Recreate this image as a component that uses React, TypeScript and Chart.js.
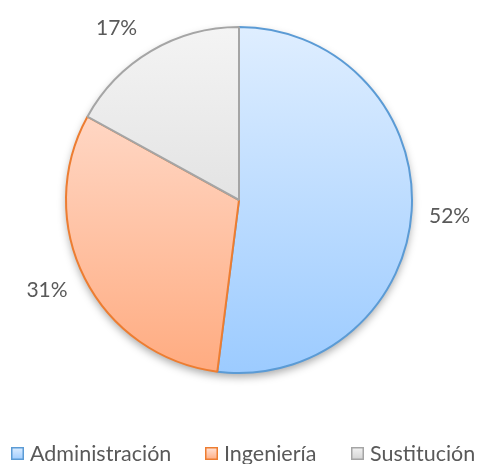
import React, { useEffect, useRef } from "react";
import { Chart, registerables } from "chart.js";

Chart.register(...registerables);

const categories = ["Administración", "Ingeniería", "Sustitución"];
const values = [52, 31, 17];
const labels = ["52%", "31%", "17%"];

const topColors = ["#dfeeff", "#ffe6dc", "#f4f4f4"];
const bottomColors = ["#9ccbff", "#ffab80", "#d2d2d2"];
const borderColors = ["#5b9bd5", "#ed7d31", "#a5a5a5"];

const FONT = "Lato, 'Open Sans', sans-serif";
const TEXT = "#595959";

export default function App() {
  const ref = useRef<HTMLCanvasElement | null>(null);
  useEffect(() => {
    document.body.style.margin = "0";
    const canvas = ref.current!;
    const gradFor = (ctx: any, i: number) => {
      const chart = ctx.chart;
      const a = chart.chartArea;
      if (!a) return topColors[i];
      const g = chart.ctx.createLinearGradient(0, a.top, 0, a.bottom);
      g.addColorStop(0, topColors[i]);
      g.addColorStop(1, bottomColors[i]);
      return g;
    };

    const shadowPlugin = {
      id: "shadow",
      beforeDatasetsDraw(chart: any) {
        const arc = chart.getDatasetMeta(0).data[0];
        if (!arc) return;
        const { x, y, outerRadius } = arc.getProps(["x", "y", "outerRadius"], true);
        const c = chart.ctx;
        c.save();
        c.shadowColor = "rgba(0,0,0,0.35)";
        c.shadowBlur = 9;
        c.shadowOffsetY = 4;
        c.fillStyle = "#ffffff";
        c.beginPath();
        c.arc(x, y, outerRadius, 0, Math.PI * 2);
        c.fill();
        c.restore();
      },
    };

    // small nudges so the labels sit where the reference places them
    const nudge = [
      [0, 3],
      [-4, -6],
      [-15, 10],
    ];

    const labelPlugin = {
      id: "outLabels",
      afterDatasetsDraw(chart: any) {
        const c = chart.ctx;
        const meta = chart.getDatasetMeta(0);
        c.save();
        c.font = `21px ${FONT}`;
        c.fillStyle = TEXT;
        c.textAlign = "center";
        c.textBaseline = "middle";
        meta.data.forEach((el: any, i: number) => {
          const { x, y, startAngle, endAngle, outerRadius } = el.getProps(
            ["x", "y", "startAngle", "endAngle", "outerRadius"],
            true
          );
          const mid = (startAngle + endAngle) / 2;
          const r = outerRadius + 38;
          const lx = x + Math.cos(mid) * r + nudge[i][0];
          const ly = y + Math.sin(mid) * r + nudge[i][1];
          c.fillText(labels[i], lx, ly);
        });
        c.restore();
      },
    };

    const legendPlugin = {
      id: "customLegend",
      afterDraw(chart: any) {
        const c = chart.ctx;
        const xs = [11, 205, 351];
        const y = 447;
        c.save();
        c.font = `21.5px ${FONT}`;
        c.textBaseline = "middle";
        categories.forEach((name, i) => {
          const g = c.createLinearGradient(0, y, 0, y + 13);
          g.addColorStop(0, topColors[i]);
          g.addColorStop(1, bottomColors[i]);
          c.fillStyle = g;
          c.fillRect(xs[i], y, 13, 13);
          c.strokeStyle = borderColors[i];
          c.lineWidth = 1.5;
          c.strokeRect(xs[i] + 0.75, y + 0.75, 11.5, 11.5);
          c.fillStyle = TEXT;
          c.fillText(name, xs[i] + 19, y + 7);
        });
        c.restore();
      },
    };

    const chart = new Chart(canvas, {
      type: "pie",
      data: {
        labels: categories,
        datasets: [
          {
            data: values,
            backgroundColor: (ctx: any) => gradFor(ctx, ctx.dataIndex),
            borderColor: borderColors,
            borderWidth: 2,
          },
        ],
      },
      options: {
        animation: false,
        responsive: false,
        events: [],
        layout: { padding: { left: 65, right: 65, top: 26, bottom: 90 } },
        plugins: {
          legend: { display: false },
          tooltip: { enabled: false },
        },
      },
      plugins: [shadowPlugin, labelPlugin, legendPlugin],
    });
    return () => chart.destroy();
  }, []);
  return <canvas ref={ref} width={478} height={464} style={{ display: "block" }} />;
}
